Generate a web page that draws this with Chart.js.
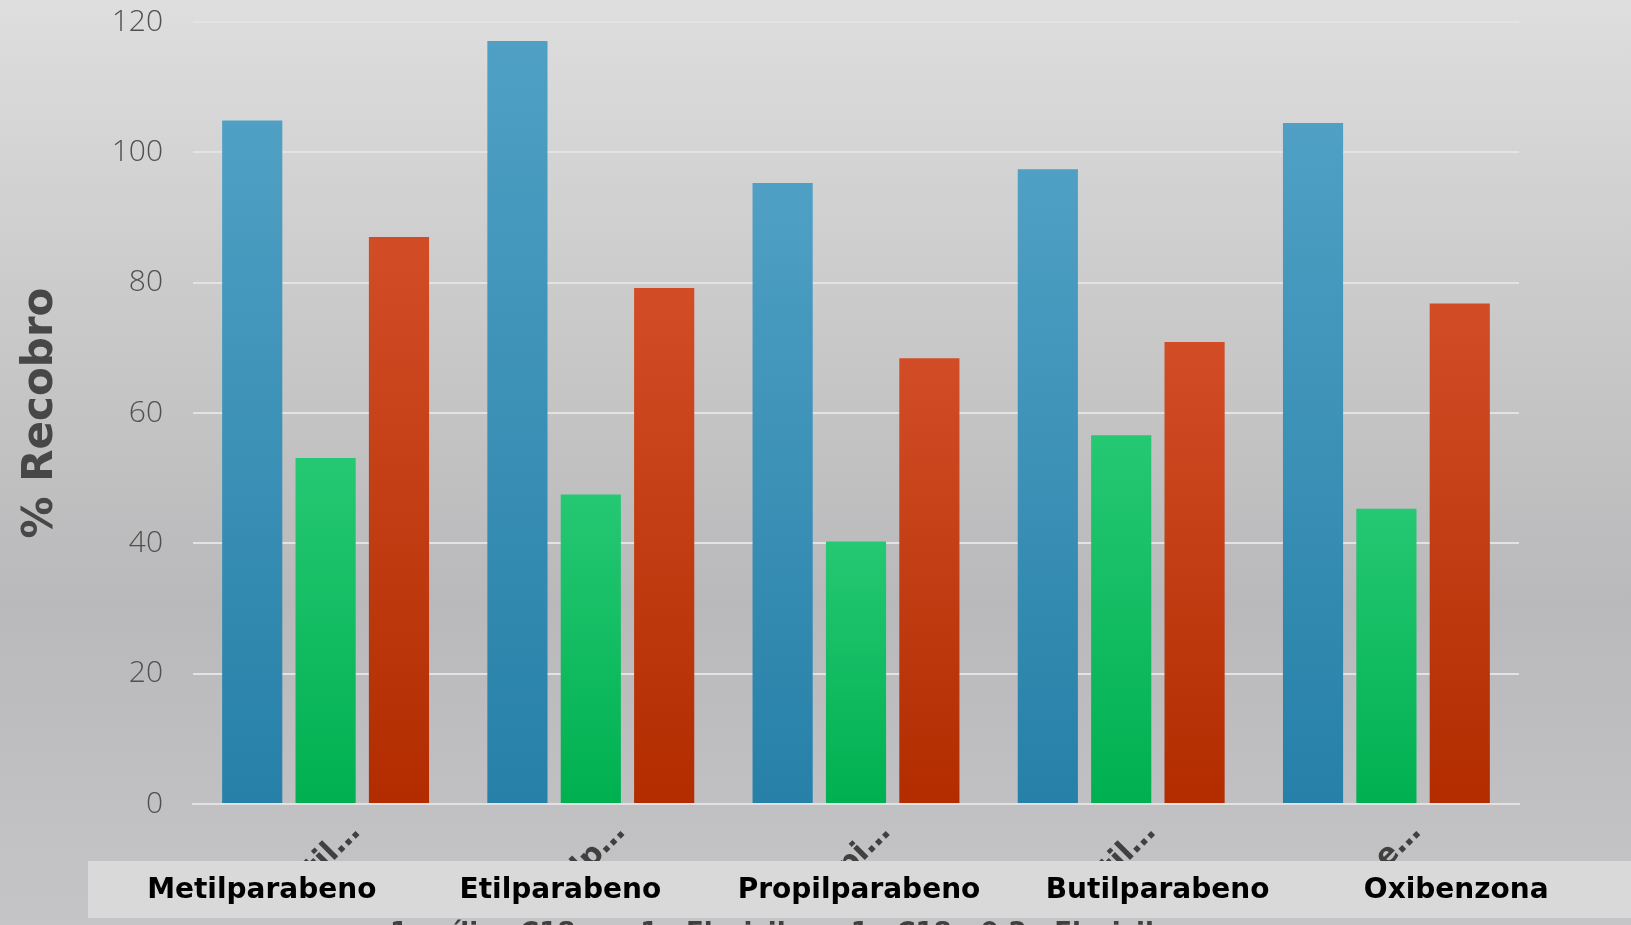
<!DOCTYPE html>
<html>
<head>
<meta charset="utf-8">
<title>% Recobro</title>
<script src="https://cdn.jsdelivr.net/npm/chart.js@4.4.1/dist/chart.umd.min.js"></script>
<style>
  html, body { margin: 0; padding: 0; overflow: hidden; background: #c8c8c8; }
  #wrap { position: relative; width: 1631px; height: 983px; margin-top: -26px; }
</style>
</head>
<body>
<div id="wrap"><canvas id="chart"></canvas></div>
<script>
// chart data
const categories = ['Metilparabeno', 'Etilparabeno', 'Propilparabeno', 'Butilparabeno', 'Oxibenzona'];
const seriesNames = ['1g sílica C18', '1g Florisil', '1g C18 - 0,2g Florisil'];
const silicaC18 = [104.9, 117.1, 95.3, 97.4, 104.5];
const florisil = [53.1, 47.5, 40.3, 56.6, 45.3];
const c18Florisil = [87.0, 79.2, 68.4, 70.9, 76.8];
const yMin = 0, yMax = 120, yStep = 20;

// canvas is pulled up by this much so the plot starts near the top
const SHIFT = 26;

// gradient colours per series (top, bottom)
const barColours = [
  ['#4fa0c4', '#2680a8'],
  ['#25c873', '#00b050'],
  ['#d24d26', '#b22c00']
];

function barGradient(idx) {
  return function(context) {
    const chart = context.chart;
    const area = chart.chartArea;
    if (!area || context.raw === undefined) return barColours[idx][1];
    const y = chart.scales.y;
    const top = y.getPixelForValue(context.raw);
    const base = y.getPixelForValue(0);
    const g = chart.ctx.createLinearGradient(0, top, 0, base);
    g.addColorStop(0, barColours[idx][0]);
    g.addColorStop(1, barColours[idx][1]);
    return g;
  };
}

// background behind the whole chart
const backgroundPlugin = {
  id: 'bg',
  beforeDraw(chart) {
    const ctx = chart.ctx;
    const g = ctx.createLinearGradient(0, SHIFT, 0, 925 + SHIFT);
    g.addColorStop(0, '#dedede');
    g.addColorStop(0.35, '#c9c9c9');
    g.addColorStop(0.65, '#b9b9bb');
    g.addColorStop(1, '#c5c5c8');
    ctx.save();
    ctx.fillStyle = g;
    ctx.fillRect(0, 0, chart.width, chart.height);
    ctx.restore();
  }
};

// light box with bold category names over the axis labels
const nameBoxPlugin = {
  id: 'nameBox',
  afterDraw(chart) {
    const ctx = chart.ctx;
    const x = chart.scales.x;
    const mid = x.getPixelForValue((categories.length - 1) / 2);
    ctx.save();
    ctx.fillStyle = '#d9d9d9';
    ctx.fillRect(88, 861 + SHIFT, chart.width - 88, 57);
    ctx.fillStyle = '#000000';
    ctx.font = 'bold 28px "DejaVu Sans"';
    ctx.textAlign = 'center';
    ctx.textBaseline = 'middle';
    categories.forEach((name, i) => {
      const cx = mid + 3 + (x.getPixelForValue(i) - mid) * 1.126;
      ctx.fillText(name, cx, 891 + SHIFT);
    });
    ctx.restore();
  }
};

const ctx = document.getElementById('chart').getContext('2d');
new Chart(ctx, {
  type: 'bar',
  data: {
    labels: categories,
    datasets: [
      { label: seriesNames[0], data: silicaC18, backgroundColor: barGradient(0) },
      { label: seriesNames[1], data: florisil, backgroundColor: barGradient(1) },
      { label: seriesNames[2], data: c18Florisil, backgroundColor: barGradient(2) }
    ]
  },
  options: {
    responsive: true,
    maintainAspectRatio: false,
    animation: false,
    categoryPercentage: 0.83,
    barPercentage: 0.82,
    layout: { padding: { top: 0, right: 112, left: 0, bottom: 0 } },
    plugins: {
      legend: {
        position: 'bottom',
        labels: {
          color: '#404040',
          font: { family: 'DejaVu Sans', size: 26, weight: 'bold' },
          boxWidth: 12,
          boxHeight: 12,
          padding: 40
        }
      },
      tooltip: { enabled: false }
    },
    scales: {
      x: {
        grid: { display: false },
        border: { display: true, color: '#e2e2e2', width: 2 },
        ticks: {
          color: '#404040',
          font: { family: 'DejaVu Sans', size: 30, weight: 'bold' },
          minRotation: 45,
          maxRotation: 45,
          labelOffset: 30,
          callback: function(value) {
            const s = categories[value];
            return s.length > 6 ? s.slice(0, 5) + '…' : s;
          }
        },
        afterFit(scale) {
          const lg = scale.chart.legend;
          scale.height = scale.chart.height - (804 + SHIFT) - (lg ? lg.height : 0);
        }
      },
      y: {
        min: yMin,
        max: yMax,
        ticks: {
          stepSize: yStep,
          color: '#505050',
          padding: 30,
          font: { family: 'Open Sans', size: 30, weight: '300' }
        },
        grid: { color: '#e3e3e3', lineWidth: 2, drawTicks: false },
        border: { display: false },
        title: {
          display: true,
          text: '% Recobro',
          color: '#474747',
          font: { family: 'DejaVu Sans', size: 42, weight: 'bold' },
          padding: { top: 16, bottom: 0 }
        },
        afterFit(scale) {
          scale.width = 193;
        }
      }
    }
  },
  plugins: [backgroundPlugin, nameBoxPlugin]
});
</script>
</body>
</html>
